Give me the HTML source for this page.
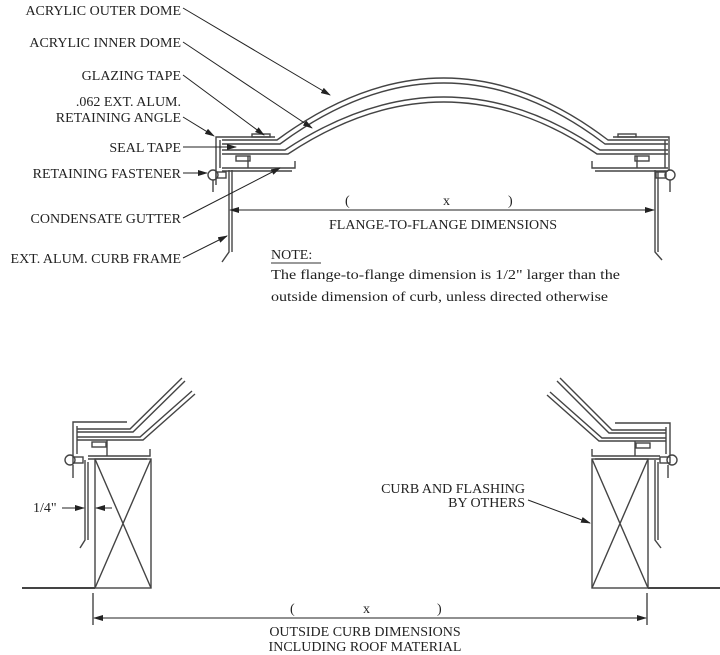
<!DOCTYPE html>
<html><head><meta charset="utf-8"><style>
html,body{margin:0;padding:0;background:#fff;}
svg{display:block;}
text{font-family:"Liberation Serif",serif;font-size:14px;fill:#222;}
</style></head><body>
<svg width="720" height="655" viewBox="0 0 720 655" xmlns="http://www.w3.org/2000/svg">
<defs>
<marker id="a" markerWidth="10" markerHeight="6" refX="9" refY="3" orient="auto" markerUnits="userSpaceOnUse"><path d="M0,0 L10,3 L0,6 z" fill="#222"/></marker>
</defs>
<g fill="none" stroke="#444" stroke-width="1.4">
<path d="M222,140 L277,140 Q445,16 608,140 L668,140"/>
<path d="M222,144 L280,144 Q445,22 605,144 L668,144"/>
<path d="M222,150 L285,150 Q445,44 600,150 L668,150"/>
<path d="M222,154 L288,154 Q445,50 597,154 L668,154"/>
<path d="M275,137 L216,137 L216,185 M220,140 L220,168"/>
<rect x="252" y="134" width="18" height="3"/>
<rect x="236" y="156" width="14" height="5"/>
<path d="M222,168 L295,168 L295,161 M222,171 L292,171 M248,156 L248,168"/>
<path d="M229,170 L229,252 L222,262 M232,170 L232,252"/>
<circle cx="213" cy="175" r="5"/><rect x="216" y="172" width="10" height="6"/>
<path d="M213,180 L213,192"/>
<path d="M613,137 L669,137 L669,170 M665,140 L665,168"/>
<rect x="618" y="134" width="18" height="3"/>
<rect x="635" y="156" width="14" height="5"/>
<path d="M668,168 L592,168 L592,161 M668,171 L595,171 M637,156 L637,168"/>
<path d="M655,170 L655,252 L662,260 M658,172 L658,252"/>
<circle cx="670" cy="175" r="5"/><rect x="656" y="172" width="10" height="6"/>
<path d="M670,180 L670,192"/>
</g>
<g stroke="#222" stroke-width="1" fill="none">
<line x1="183" y1="8" x2="330" y2="95" marker-end="url(#a)"/>
<line x1="183" y1="42" x2="312" y2="128" marker-end="url(#a)"/>
<line x1="183" y1="75" x2="264" y2="135" marker-end="url(#a)"/>
<line x1="183" y1="117" x2="214" y2="136" marker-end="url(#a)"/>
<line x1="183" y1="147" x2="236" y2="147" marker-end="url(#a)"/>
<line x1="183" y1="173" x2="207" y2="173" marker-end="url(#a)"/>
<line x1="183" y1="218" x2="280" y2="168" marker-end="url(#a)"/>
<line x1="183" y1="258" x2="227" y2="236" marker-end="url(#a)"/>
<line x1="241" y1="210" x2="230" y2="210" marker-end="url(#a)"/>
<line x1="236" y1="210" x2="654" y2="210" marker-end="url(#a)"/>
</g>
<g text-anchor="end">
<text x="181" y="15">ACRYLIC OUTER DOME</text>
<text x="181" y="47">ACRYLIC INNER DOME</text>
<text x="181" y="80">GLAZING TAPE</text>
<text x="181" y="106">.062 EXT. ALUM.</text>
<text x="181" y="122">RETAINING ANGLE</text>
<text x="181" y="152">SEAL TAPE</text>
<text x="181" y="178">RETAINING FASTENER</text>
<text x="181" y="223">CONDENSATE GUTTER</text>
<text x="181" y="263">EXT. ALUM. CURB FRAME</text>
</g>
<text x="345" y="205" font-size="10">(</text>
<text x="443" y="205" font-size="10">x</text>
<text x="508" y="205" font-size="10">)</text>
<text x="443" y="229" text-anchor="middle">FLANGE-TO-FLANGE DIMENSIONS</text>
<text x="271" y="259" font-size="16">NOTE:</text>
<line x1="271" y1="263" x2="321" y2="263" stroke="#333" stroke-width="1"/>
<text x="271" y="279" font-size="16" textLength="349" lengthAdjust="spacingAndGlyphs">The flange-to-flange dimension is 1/2" larger than the</text>
<text x="271" y="301" font-size="16" textLength="337" lengthAdjust="spacingAndGlyphs">outside dimension of curb, unless directed otherwise</text>

<g fill="none" stroke="#444" stroke-width="1.4">
<path d="M127,422 L73,422 L73,456 M77,426 L77,454"/>
<path d="M77,429 L130,429 L182,378 M77,432 L133,432 L185,381"/>
<path d="M77,437 L140,437 L192,391 M77,440 L143,440 L195,394"/>
<rect x="92" y="442" width="14" height="5"/>
<path d="M107,440 L107,456"/>
<path d="M88,456 L150,456 L150,449 M88,459 L147,459"/>
<rect x="95" y="459" width="56" height="129"/>
<path d="M95,459 L151,588 M151,459 L95,588"/>
<path d="M85,460 L85,540 L80,548 M88,462 L88,540"/>
<circle cx="70" cy="460" r="5"/><rect x="73" y="457" width="10" height="6"/>
<path d="M73,465 L73,478"/>
<path d="M22,588 L95,588" stroke-width="2"/>
<path d="M93,593 L93,625"/>
</g>
<g fill="none" stroke="#444" stroke-width="1.4">
<path d="M615,423 L670,423 L670,456 M666,427 L666,454"/>
<path d="M666,430 L612,430 L560,378 M666,433 L609,433 L557,381"/>
<path d="M666,438 L602,438 L550,392 M666,441 L599,441 L547,395"/>
<rect x="636" y="443" width="14" height="5"/>
<path d="M635,441 L635,456"/>
<path d="M660,456 L592,456 L592,449 M660,459 L595,459"/>
<rect x="592" y="459" width="56" height="129"/>
<path d="M592,459 L648,588 M648,459 L592,588"/>
<path d="M655,460 L655,540 L661,548 M658,462 L658,540"/>
<circle cx="672" cy="460" r="5"/><rect x="660" y="457" width="10" height="6"/>
<path d="M668,465 L668,478"/>
<path d="M648,588 L720,588" stroke-width="2"/>
<path d="M647,593 L647,625"/>
</g>
<g stroke="#222" stroke-width="1" fill="none">
<line x1="100" y1="618" x2="94" y2="618" marker-end="url(#a)"/>
<line x1="100" y1="618" x2="646" y2="618" marker-end="url(#a)"/>
<line x1="528" y1="500" x2="590" y2="523" marker-end="url(#a)"/>
<line x1="62" y1="508" x2="84" y2="508" marker-end="url(#a)"/>
<line x1="112" y1="508" x2="96" y2="508" marker-end="url(#a)"/>
</g>
<text x="33" y="512" font-size="13">1/4"</text>
<text x="525" y="493" text-anchor="end">CURB AND FLASHING</text>
<text x="525" y="507" text-anchor="end">BY OTHERS</text>
<text x="290" y="613" font-size="10">(</text>
<text x="363" y="613" font-size="10">x</text>
<text x="437" y="613" font-size="10">)</text>
<text x="365" y="636" text-anchor="middle">OUTSIDE CURB DIMENSIONS</text>
<text x="365" y="651" text-anchor="middle">INCLUDING ROOF MATERIAL</text>
</svg>
</body></html>
